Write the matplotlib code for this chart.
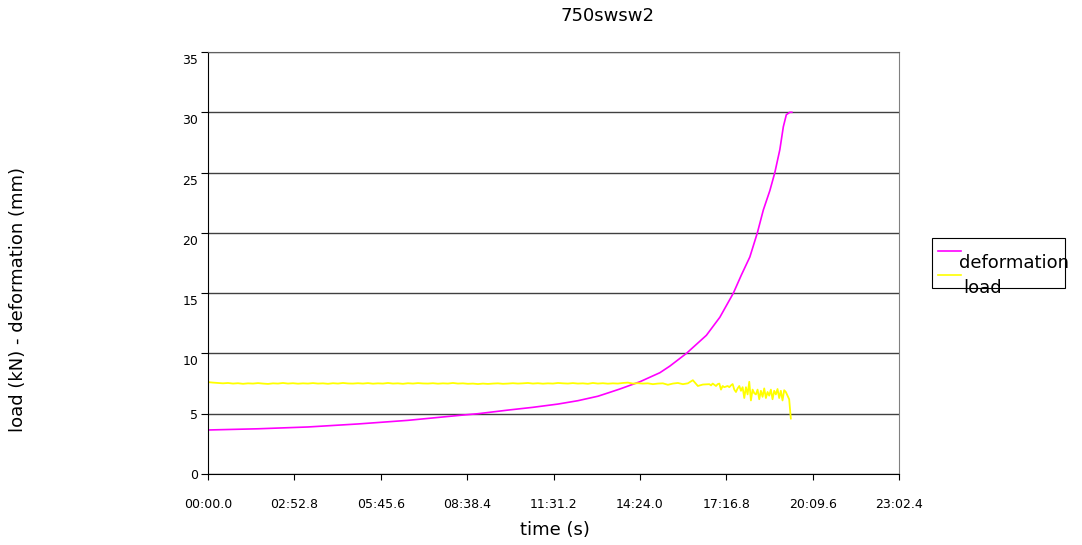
# 750swsw2 load / deformation vs time
import numpy as np
import matplotlib.pyplot as plt
from matplotlib.ticker import FuncFormatter, MultipleLocator
from matplotlib.patches import Rectangle
from matplotlib.lines import Line2D
import matplotlib.transforms as mtransforms

# deformation (mm), time in seconds
defo_t = [0, 100, 200, 300, 400, 500, 540, 600, 650, 700, 740, 780, 800, 824, 864, 904,
          924, 957, 997, 1024, 1051, 1067, 1084, 1099, 1111, 1124, 1134, 1144,
          1151, 1157, 1164, 1168]
defo_v = [3.65, 3.75, 3.9, 4.15, 4.45, 4.85, 5.0, 5.3, 5.53, 5.8, 6.08, 6.45, 6.72, 7.05, 7.65, 8.4,
          8.95, 10.0, 11.5, 13.0, 15.0, 16.5, 18.0, 20.0, 21.9, 23.5, 25.0, 26.9,
          28.8, 29.8, 30.0, 30.0]

# load (kN), steady part sampled every 10 s
load_t1 = np.arange(0, 1001, 10)
load_v1 = [7.62, 7.58, 7.55, 7.52, 7.55, 7.5, 7.53, 7.48, 7.52, 7.5, 7.54,
           7.5, 7.47, 7.52, 7.5, 7.55, 7.5, 7.53, 7.49, 7.52, 7.5,
           7.54, 7.5, 7.52, 7.48, 7.53, 7.5, 7.55, 7.51, 7.5, 7.53,
           7.5, 7.54, 7.49, 7.52, 7.5, 7.55, 7.5, 7.52, 7.48, 7.53,
           7.5, 7.54, 7.51, 7.5, 7.53, 7.49, 7.52, 7.5, 7.55, 7.5,
           7.52, 7.48, 7.5, 7.46, 7.5, 7.47, 7.5, 7.52, 7.48, 7.5,
           7.53, 7.5, 7.52, 7.55, 7.5, 7.53, 7.49, 7.52, 7.5, 7.55,
           7.52, 7.5, 7.54, 7.5, 7.52, 7.48, 7.55, 7.5, 7.53, 7.49,
           7.52, 7.5, 7.55, 7.58, 7.5, 7.53, 7.5, 7.52, 7.45, 7.5,
           7.52, 7.4, 7.5, 7.55, 7.45, 7.52, 7.78, 7.3, 7.42, 7.45]
# noisy end part
load_t2 = np.linspace(1003, 1166, 50)
load_v2 = [7.45, 7.35, 7.5, 7.4, 7.3, 7.45, 7.5,
           7.0, 7.3, 7.2, 7.25, 7.3, 7.2, 7.35,
           7.46, 7.0, 6.8, 7.1, 7.3, 6.9, 7.2,
           6.3, 7.2, 6.6, 7.65, 6.1, 7.0, 6.7,
           6.6, 7.0, 6.2, 6.9, 6.4, 7.1, 6.3, 6.8, 6.5, 7.0, 6.2,
           6.9, 6.6, 7.05, 6.3, 6.9, 6.1, 6.95, 6.8, 6.5, 6.2, 4.6]

load_t = np.concatenate([load_t1, load_t2])
load_v = np.concatenate([load_v1, load_v2])

W, H = 1082, 545
fig = plt.figure(figsize=(W / 100, H / 100), dpi=100)
ax = fig.add_axes([208 / W, 1 - 474 / H, 691 / W, 422 / H])


def px(x, y):
    return (x / W, 1 - y / H)


ax.plot(defo_t, defo_v, color="#FF00FF", lw=1.2)
ax.plot(load_t, load_v, color="#FFFF00", lw=1.3)

ax.set_xlim(0, 1382.4)
ax.set_ylim(0, 35)
ax.xaxis.set_major_locator(MultipleLocator(172.8))
ax.yaxis.set_major_locator(MultipleLocator(5))


def fmt_time(v, pos):
    m = int(v // 60)
    s = v - m * 60
    return "%02d:%04.1f" % (m, s)


ax.xaxis.set_major_formatter(FuncFormatter(fmt_time))
ax.grid(axis="y", color="#404040", lw=1)
ax.set_axisbelow(True)
ax.tick_params(axis="x", direction="out", length=4, pad=13, labelsize=9)
ax.tick_params(axis="y", direction="out", length=5, pad=2, labelsize=9)
ax.spines["right"].set_color("#808080")
ax.spines["top"].set_color("#606060")

# two-digit y labels sit a bit lower in the original
fig.canvas.draw()
for lab in ax.get_yticklabels():
    if len(lab.get_text()) == 2:
        off = mtransforms.ScaledTranslation(0, -7 / 100, fig.dpi_scale_trans)
        lab.set_transform(lab.get_transform() + off)

fig.text(*px(608, 16), "750swsw2", ha="center", va="center", fontsize=13)
fig.text(*px(555, 530), "time (s)", ha="center", va="center", fontsize=13)
fig.text(*px(18, 300), "load (kN) - deformation (mm)", rotation=90,
         ha="center", va="center", fontsize=13)

# legend box drawn by hand
x0, y0 = px(932, 288)
x1, y1 = px(1065, 238)
fig.patches.append(Rectangle((x0, y0), x1 - x0, y1 - y0, transform=fig.transFigure,
                             fill=False, edgecolor="black", lw=0.8))
for yy, col in [(251, "#FF00FF"), (275, "#FFFF00")]:
    a, b = px(938, yy)
    c, d = px(961, yy)
    fig.lines.append(Line2D([a, c], [b, d], transform=fig.transFigure, color=col, lw=1.2))
fig.text(*px(959, 263), "deformation", ha="left", va="center", fontsize=13)
fig.text(*px(963, 288), "load", ha="left", va="center", fontsize=13)

fig.savefig("out.png", dpi=100)
